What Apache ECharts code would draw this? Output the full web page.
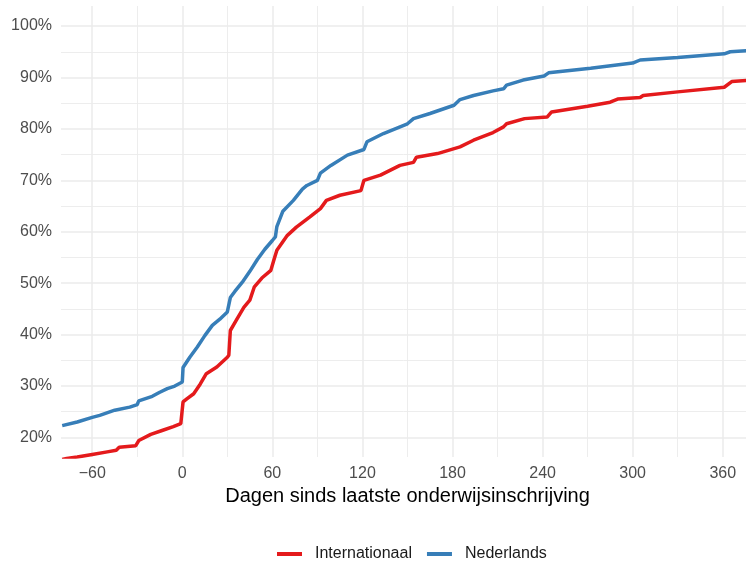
<!DOCTYPE html>
<html><head><meta charset="utf-8">
<script src="https://cdn.jsdelivr.net/npm/echarts@6/dist/echarts.min.js"></script>
<style>html,body{margin:0;padding:0;background:#fff}#c{width:746px;height:563px}</style>
</head><body><div id="c"></div>
<script>
const seriesNames = ['Internationaal', 'Nederlands'];
const seriesColors = ['#E41A1C', '#377EB8'];

const intDays = [-80, -77, -70, -60, -50, -44, -42, -31, -29, -21, -13, -6, -1, 0.5, 3, 7.6, 12, 16, 23, 30, 31, 32, 36, 41, 45, 48, 53, 59, 61, 63, 64, 70, 76, 85, 92, 96, 105, 119, 121, 132, 145, 154, 156, 170, 185, 194, 207, 214, 216, 228, 243, 246, 270, 285, 290, 305, 307, 330, 361, 366, 376];
const intPct  = [15.7, 15.9, 16.2, 16.7, 17.2, 17.5, 18.1, 18.4, 19.4, 20.6, 21.4, 22.1, 22.7, 26.9, 27.5, 28.5, 30.4, 32.4, 33.7, 35.6, 36.0, 40.8, 42.8, 45.3, 46.7, 49.3, 51.0, 52.5, 54.5, 56.4, 56.7, 59.3, 60.9, 62.9, 64.5, 66.1, 67.1, 68.0, 70.0, 71.0, 72.9, 73.5, 74.5, 75.2, 76.5, 77.8, 79.3, 80.4, 81.0, 82.0, 82.3, 83.3, 84.4, 85.2, 85.8, 86.1, 86.5, 87.2, 88.1, 89.2, 89.4];

const nlDays = [-80, -70, -60, -55, -45, -35, -30, -29, -20, -15, -10, -5, 0, 0.5, 5, 10, 15, 20, 25, 30, 31, 32, 35, 40, 45, 50, 55, 60, 62, 63, 67, 74, 80, 83, 90, 92, 99, 110, 121, 123, 134, 150, 154, 165, 181, 185, 194, 207, 214, 216, 227, 241, 244, 272, 300, 305, 330, 361, 365, 376];
const nlPct  = [22.3, 23.0, 23.9, 24.3, 25.3, 25.9, 26.4, 27.1, 28.0, 28.8, 29.5, 30.0, 30.8, 33.6, 35.6, 37.6, 39.8, 41.8, 43.0, 44.4, 44.6, 47.2, 48.4, 50.2, 52.3, 54.6, 56.6, 58.3, 59.0, 61.0, 64.0, 66.1, 68.3, 69.0, 70.0, 71.4, 72.9, 74.9, 76.0, 77.5, 79.1, 81.0, 82.0, 83.0, 84.6, 85.7, 86.5, 87.4, 87.8, 88.5, 89.5, 90.3, 90.9, 91.8, 92.8, 93.4, 93.9, 94.6, 95.0, 95.2];

const xMajorTicks = [-60, 0, 60, 120, 180, 240, 300, 360];
const xMinorTicks = [-30, 30, 90, 150, 210, 270, 330];
const yMajorTicks = [20, 30, 40, 50, 60, 70, 80, 90, 100];
const yMinorTicks = [25, 35, 45, 55, 65, 75, 85, 95];

const X_MIN = -80.8, X_MAX = 375.5, Y_MIN = 16.2, Y_MAX = 103.9;
const FONT = '"Liberation Sans", Arial, sans-serif';

const zip = (a, b) => a.map((v, i) => [v, b[i]]);
const chart = echarts.init(document.getElementById('c'), null, {renderer: 'canvas'});

const majorLine = {show: true, lineStyle: {color: '#ebebeb', width: 1.5}};
const minorLine = {show: true, lineStyle: {color: '#ebebeb', width: 0.9}};

chart.setOption({
  animation: false,
  backgroundColor: '#fff',
  grid: {left: 61, right: 0, top: 6, bottom: 106, containLabel: false},
  xAxis: [
    {
      type: 'value', min: X_MIN, max: X_MAX,
      axisLine: {show: false}, axisTick: {show: false, customValues: xMajorTicks},
      splitLine: majorLine,
      axisLabel: {customValues: xMajorTicks, color: '#4d4d4d', fontSize: 16, fontFamily: FONT, margin: 9,
        formatter: v => String(v).replace('-', '\u2212')},
      name: 'Dagen sinds laatste onderwijsinschrijving', nameLocation: 'middle', nameGap: 26,
      nameTextStyle: {color: '#000', fontSize: 20, fontFamily: FONT, padding: [0, 0, 0, 8]}
    },
    {
      type: 'value', min: X_MIN, max: X_MAX, position: 'bottom',
      axisLine: {show: false}, axisTick: {show: false, customValues: xMinorTicks},
      axisLabel: {show: false}, splitLine: minorLine
    }
  ],
  yAxis: [
    {
      type: 'value', min: Y_MIN, max: Y_MAX,
      axisLine: {show: false}, axisTick: {show: false, customValues: yMajorTicks},
      splitLine: majorLine,
      axisLabel: {customValues: yMajorTicks, color: '#4d4d4d', fontSize: 16, fontFamily: FONT, margin: 9,
        formatter: v => v + '%'}
    },
    {
      type: 'value', min: Y_MIN, max: Y_MAX, position: 'left',
      axisLine: {show: false}, axisTick: {show: false, customValues: yMinorTicks},
      axisLabel: {show: false}, splitLine: minorLine
    }
  ],
  legend: {
    data: seriesNames, left: 277, top: 546, orient: 'horizontal', padding: 0,
    icon: 'rect', itemWidth: 25, itemHeight: 4, itemGap: 15,
    textStyle: {color: '#1a1a1a', fontSize: 16, fontFamily: FONT, padding: [0, 0, 0, 8]}
  },
  series: [
    {name: seriesNames[0], type: 'line', data: zip(intDays, intPct), showSymbol: false, symbol: 'none',
     color: seriesColors[0], lineStyle: {width: 3.5, color: seriesColors[0]}, clip: true, z: 3},
    {name: seriesNames[1], type: 'line', data: zip(nlDays, nlPct), showSymbol: false, symbol: 'none',
     color: seriesColors[1], lineStyle: {width: 3.5, color: seriesColors[1]}, clip: true, z: 3}
  ]
});
</script></body></html>
